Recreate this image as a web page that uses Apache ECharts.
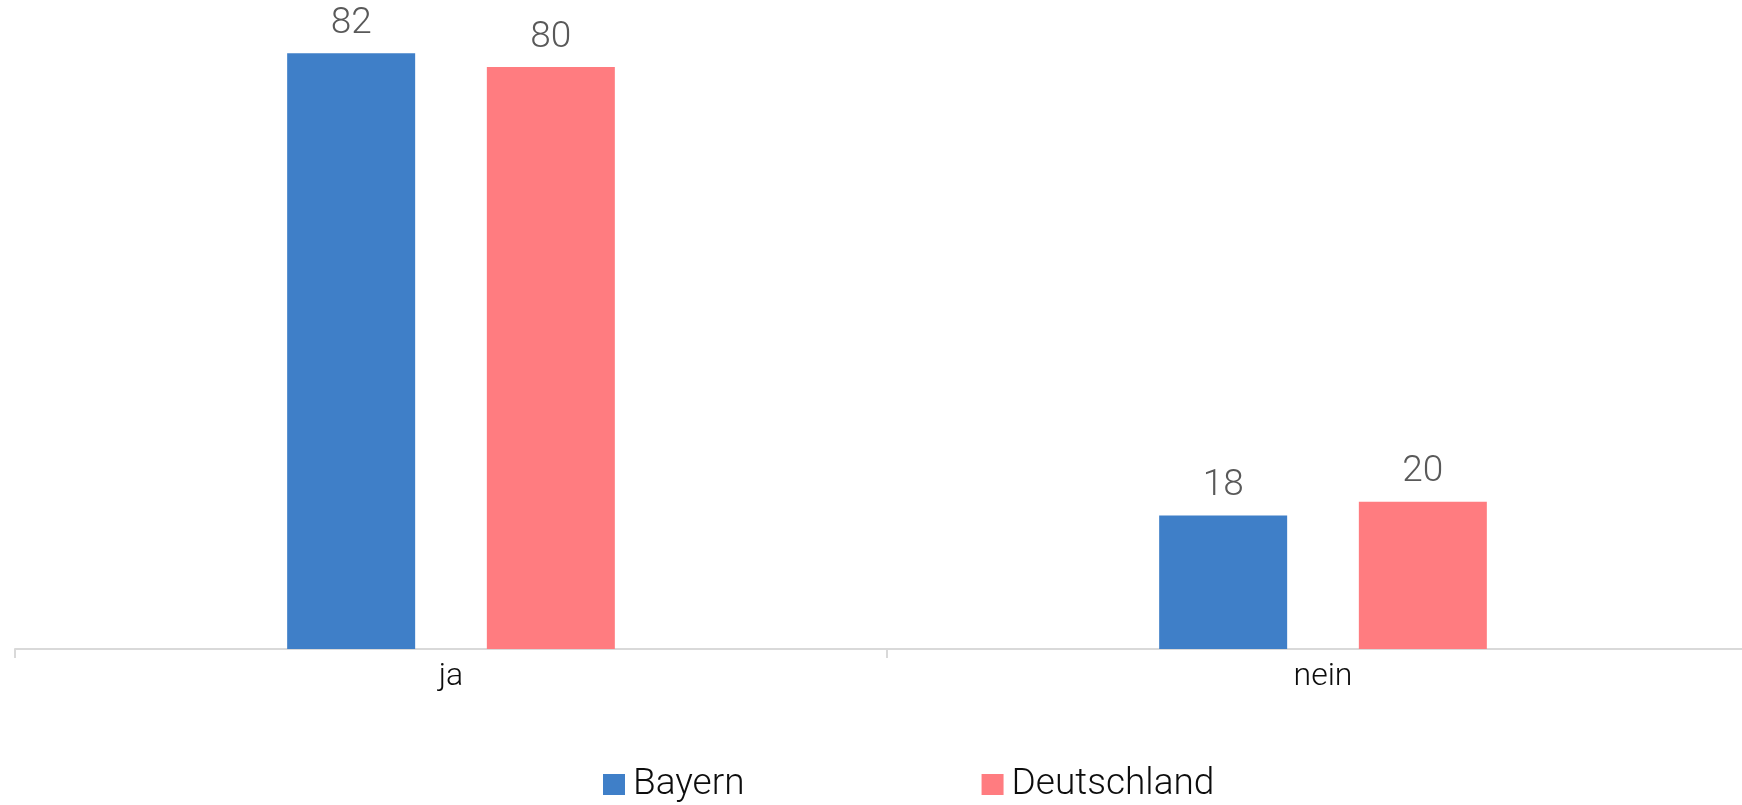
<!DOCTYPE html>
<html>
<head>
<meta charset="utf-8">
<script src="https://cdn.jsdelivr.net/npm/echarts@6/dist/echarts.min.js"></script>
<style>
  html, body { margin: 0; padding: 0; background: #fff; }
  #main { width: 1742px; height: 805px; }
</style>
</head>
<body>
<div id="main"></div>
<script>
// Kategorien und Werte (in Prozent)
var categories = ['ja', 'nein'];
var seriesNames = ['Bayern', 'Deutschland'];
var bayern = [81.7, 18.3];
var deutschland = [79.8, 20.2];

var chart = echarts.init(document.getElementById('main'));

var labelStyle = {
    show: true,
    position: 'top',
    distance: 11,
    fontFamily: 'Roboto',
    fontWeight: 300,
    fontSize: 37,
    color: '#595959',
    formatter: function (p) { return Math.round(p.value); }
};

var option = {
    animation: false,
    backgroundColor: '#ffffff',
    grid: {
        left: 15,
        top: 0,
        width: 1744,
        height: 649,
        outerBoundsMode: 'none'
    },
    legend: {
        data: seriesNames,
        left: 603,
        top: 766,
        padding: 0,
        itemWidth: 22,
        itemHeight: 21,
        itemGap: 237,
        icon: 'rect',
        textStyle: {
            fontFamily: 'Roboto',
            fontWeight: 300,
            fontSize: 37,
            color: '#0d0d0d',
            padding: [0, 0, 0, 3]
        }
    },
    xAxis: {
        type: 'category',
        data: categories,
        axisLine: { lineStyle: { color: '#d9d9d9', width: 2 } },
        axisTick: { show: true, length: 9, lineStyle: { color: '#d9d9d9', width: 2 } },
        axisLabel: {
            margin: 12,
            fontFamily: 'Roboto',
            fontWeight: 300,
            fontSize: 32,
            color: '#0d0d0d'
        }
    },
    yAxis: {
        type: 'value',
        show: false,
        min: 0,
        max: 89,
        splitLine: { show: false }
    },
    series: [{
        name: 'Bayern',
        type: 'bar',
        data: bayern,
        barWidth: 128,
        barGap: '56%',
        itemStyle: { color: '#3f7fc8' },
        label: labelStyle
    }, {
        name: 'Deutschland',
        type: 'bar',
        data: deutschland,
        barWidth: 128,
        itemStyle: { color: '#ff7c80' },
        label: labelStyle
    }]
};

chart.setOption(option);
</script>
</body>
</html>
